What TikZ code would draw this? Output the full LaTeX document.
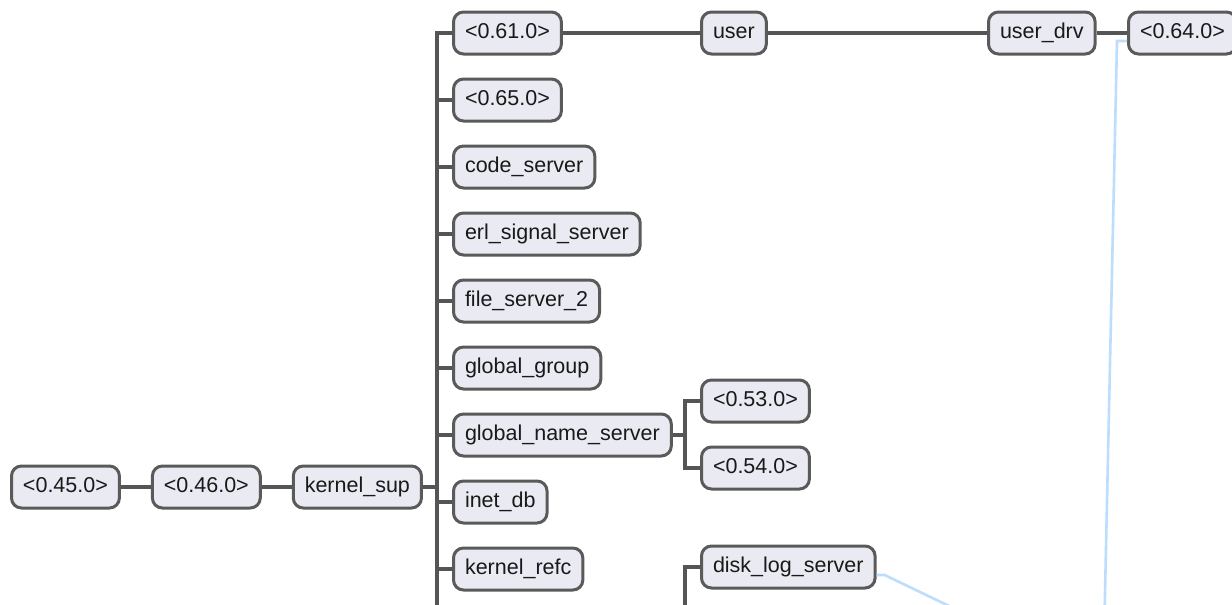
\documentclass[tikz,border=0pt]{standalone}
\usepackage{fontspec}
\setmainfont{Liberation Sans}
\usepackage{xcolor}
\usetikzlibrary{positioning}
\definecolor{boxfill}{HTML}{EAEAF2}
\definecolor{boxline}{HTML}{5A5A5A}
\definecolor{treeline}{HTML}{555555}
\definecolor{linkblue}{HTML}{BCDDFB}
\tikzstyle{proc} = [rectangle, rounded corners=10pt, draw=boxline, fill=boxfill, line width=3pt, inner xsep=11.5pt, inner ysep=0pt, minimum height=42pt, text height=16pt, text depth=5pt, font=\fontsize{21.5}{24}\selectfont, text=black!90]
\tikzstyle{tree} = [draw=treeline, line width=3.2pt]
\tikzstyle{link} = [draw=linkblue, line width=2.6pt]

\begin{document}
\begin{tikzpicture}[x=1pt, y=-1pt, node distance=30pt]
  \useasboundingbox (0,0) rectangle (1232,605);
  \clip (0,0) rectangle (1232,605);
  \fill[white] (0,0) rectangle (1232,605);

  \node[proc, anchor=west] (c45) at (10,487) {<0.45.0>};
  \node[proc, right=of c45] (c46) {<0.46.0>};
  \node[proc, right=of c46] (ksup) {kernel\_sup};

  \node[proc, anchor=west] (c61) at (452,33) {<0.61.0>};
  \node[proc, anchor=west] (c65) at (452,100) {<0.65.0>};
  \node[proc, anchor=west] (codesrv) at (452,167) {code\_server};
  \node[proc, anchor=west] (erlsig) at (452,234) {erl\_signal\_server};
  \node[proc, anchor=west] (filesrv) at (452,301) {file\_server\_2};
  \node[proc, anchor=west] (gg) at (452,368) {global\_group};
  \node[proc, anchor=west] (gns) at (452,435) {global\_name\_server};
  \node[proc, anchor=west] (inetdb) at (452,502) {inet\_db};
  \node[proc, anchor=west] (krefc) at (452,569) {kernel\_refc};

  \node[proc, anchor=west] (user) at (700,33) {user};
  \node[proc, anchor=west] (userdrv) at (987,33) {user\_drv};
  \node[proc, anchor=west] (c64) at (1127,33) {<0.64.0>};
  \node[proc, anchor=west] (c53) at (700,401) {<0.53.0>};
  \node[proc, anchor=west] (c54) at (700,468) {<0.54.0>};
  \node[proc, anchor=west] (dls) at (700,567) {disk\_log\_server};

  \coordinate (ksfork) at (437,487);
  \coordinate (ksdown) at (437,640);
  \coordinate (gnsfork) at (685,435);
  \coordinate (dlsup) at (685,640);
  \coordinate (bluedown) at (1104,640);
  \coordinate (blueout) at (1020,640);

  % supervisor tree
  \path[tree] (c45) -- (c46);
  \path[tree] (c46) -- (ksup);
  \path[tree] (ksup) -- (ksfork);
  \path[tree] (ksfork) |- (c61.west);
  \path[tree] (ksfork) |- (c65.west);
  \path[tree] (ksfork) |- (codesrv.west);
  \path[tree] (ksfork) |- (erlsig.west);
  \path[tree] (ksfork) |- (filesrv.west);
  \path[tree] (ksfork) |- (gg.west);
  \path[tree] (ksfork) |- (gns.west);
  \path[tree] (ksfork) |- (inetdb.west);
  \path[tree] (ksfork) |- (krefc.west);
  \path[tree] (ksfork) -- (ksdown);
  \path[tree] (c61) -- (user);
  \path[tree] (user) -- (userdrv);
  \path[tree] (userdrv) -- (c64);
  \path[tree] (gns) -- (gnsfork);
  \path[tree] (gnsfork) |- (c53.west);
  \path[tree] (gnsfork) |- (c54.west);
  \path[tree] (dlsup) |- (dls.west);

  % links
  \path[link] ([yshift=-8pt]c64.west) -- ++(-10,0) -- (bluedown);
  \path[link] ([yshift=-8pt]dls.east) -- ++(8,0) -- (blueout);
\end{tikzpicture}
\end{document}
